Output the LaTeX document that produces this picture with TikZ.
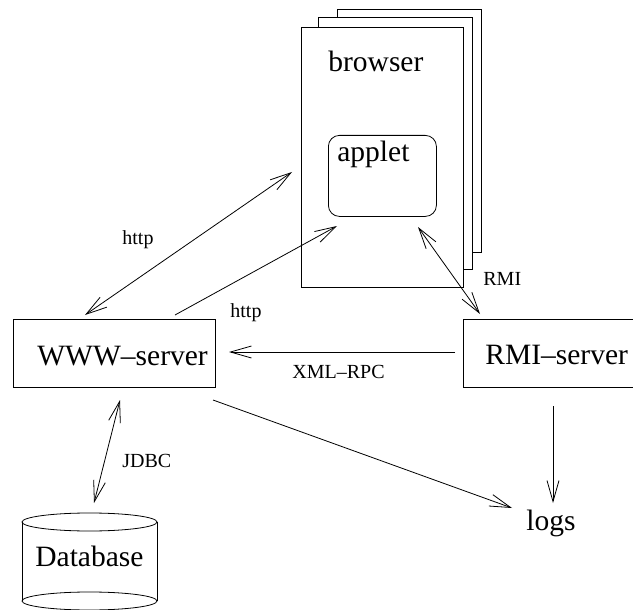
\documentclass[tikz,border=0pt]{standalone}
\usepackage{fontspec}
\setmainfont{Liberation Serif}
\usetikzlibrary{arrows.meta}
\begin{document}
\begin{tikzpicture}[x=1pt,y=-1pt,
  line width=0.8pt,
  big/.style={font=\fontsize{29.5}{35}\selectfont, inner sep=0pt, anchor=base west},
  small/.style={font=\fontsize{20}{24}\selectfont, inner sep=0pt, anchor=base west},
  page/.style={draw, fill=white, inner sep=0pt, anchor=north west},
  box/.style={draw, inner sep=0pt, anchor=north west},
  barb/.tip={Straight Barb[length=21pt,width=12pt]},
  onearrow/.style={-barb},
  twoarrow/.style={barb-barb},
]
\clip (0,0) rectangle (633,610);
% browser pages
\node[page, minimum width=144pt, minimum height=243pt] (page3) at (337,9) {};
\node[page, minimum width=154pt, minimum height=252pt] (page2) at (318,17) {};
\node[page, minimum width=162pt, minimum height=260pt] (page1) at (301,27) {};
\node[big] (browser) at (328,72) {browser};
\node[box, rounded corners=11pt, minimum width=108pt, minimum height=81pt] (appletbox) at (328,135) {};
\node[big] (applet) at (337,162) {applet};
% servers
\node[box, minimum width=202pt, minimum height=68pt] (wwwbox) at (13,319) {};
\node[big] (www) at (37,365) {WWW\textendash server};
\node[box, minimum width=200pt, minimum height=68pt] (rmibox) at (463,319) {};
\node[big] (rmi) at (485,364) {RMI\textendash server};
\node[big] (logs) at (526,530) {logs};
% database cylinder
\draw (22,522) -- (22,601) (157,522) -- (157,601);
\draw (89.5,522) ellipse [x radius=67.5, y radius=9];
\draw (89.5,601) ellipse [x radius=67.5, y radius=9];
\node[big] (db) at (35,566) {Database};
% connector end points
\coordinate (h1a) at (85,315);
\coordinate (h1b) at (292,172);
\coordinate (h2a) at (175,315);
\coordinate (h2b) at (337,226);
\coordinate (ra) at (418,227);
\coordinate (rb) at (480,314);
\coordinate (xa) at (455,352);
\coordinate (xb) at (229,352);
\coordinate (la) at (213,400);
\coordinate (lb) at (512,508);
\coordinate (ma) at (553,406);
\coordinate (mb) at (553,503);
\coordinate (ja) at (120,400);
\coordinate (jb) at (94,503);
% connectors
\draw[twoarrow] (h1a) -- (h1b);
\draw[onearrow] (h2a) -- (h2b);
\draw[twoarrow] (ra) -- (rb);
\draw[onearrow] (xa) -- (xb);
\draw[onearrow] (la) -- (lb);
\draw[onearrow] (ma) -- (mb);
\draw[twoarrow] (ja) -- (jb);
% labels
\node[small] (lh1) at (122,244) {http};
\node[small] (lh2) at (230,317) {http};
\node[small] (lrmi) at (483,285) {RMI};
\node[small] (lxml) at (292,378) {XML\textendash RPC};
\node[small] (ljdbc) at (122,467) {JDBC};
\end{tikzpicture}
\end{document}
